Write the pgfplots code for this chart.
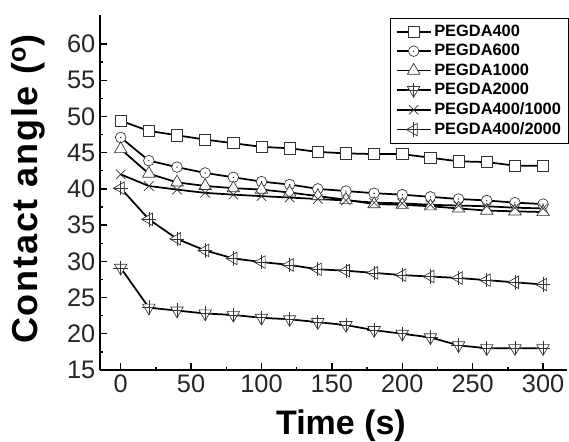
\documentclass[border=0pt]{standalone}
\usepackage{fontspec}
\setmainfont{Liberation Sans}
\usepackage{pgfplots}
\pgfplotsset{compat=1.18}

% open marks with white fill
\pgfdeclareplotmark{cdot}{%
  \pgfpathcircle{\pgfpointorigin}{\pgfplotmarksize}%
  \pgfusepathqfillstroke
  \begin{pgfscope}\pgfsetfillcolor{black}%
  \pgfpathcircle{\pgfpointorigin}{0.5pt}\pgfusepathqfill\end{pgfscope}}
\pgfdeclareplotmark{tdplus}{%
  \pgfpathmoveto{\pgfqpointpolar{-90}{\pgfplotmarksize}}%
  \pgfpathlineto{\pgfqpointpolar{30}{\pgfplotmarksize}}%
  \pgfpathlineto{\pgfqpointpolar{150}{\pgfplotmarksize}}%
  \pgfpathclose\pgfusepathqfillstroke
  \pgfpathmoveto{\pgfqpoint{-\pgfplotmarksize}{0pt}}%
  \pgfpathlineto{\pgfqpoint{\pgfplotmarksize}{0pt}}%
  \pgfpathmoveto{\pgfqpoint{0pt}{-\pgfplotmarksize}}%
  \pgfpathlineto{\pgfqpoint{0pt}{\pgfplotmarksize}}%
  \pgfusepathqstroke}
\pgfdeclareplotmark{tlplus}{%
  \pgfpathmoveto{\pgfqpointpolar{180}{\pgfplotmarksize}}%
  \pgfpathlineto{\pgfqpointpolar{60}{\pgfplotmarksize}}%
  \pgfpathlineto{\pgfqpointpolar{-60}{\pgfplotmarksize}}%
  \pgfpathclose\pgfusepathqfillstroke
  \pgfpathmoveto{\pgfqpoint{-\pgfplotmarksize}{0pt}}%
  \pgfpathlineto{\pgfqpoint{\pgfplotmarksize}{0pt}}%
  \pgfpathmoveto{\pgfqpoint{0pt}{-\pgfplotmarksize}}%
  \pgfpathlineto{\pgfqpoint{0pt}{\pgfplotmarksize}}%
  \pgfusepathqstroke}

\pgfplotsset{
  ser/.style={black, line width=1.3pt,
    mark options={solid, fill=white, draw=black!80, line width=0.5pt}},
}

\begin{document}
\begin{tikzpicture}
\begin{axis}[
  scale only axis, width=350.25pt, height=266.25pt,
  xmin=-14.7, xmax=317, ymin=15, ymax=64,
  axis x line*=bottom, axis y line*=left,
  axis line style={line width=1.5pt},
  xtick={0,50,...,300}, ytick={15,20,...,60},
  minor tick num=1, tick align=inside,
  major tick length=5pt, minor tick length=2.5pt,
  tick style={black, line width=1pt},
  /pgf/number format/assume math mode=true,
  tick label style={font=\fontsize{19}{22}\selectfont, text=black!85},
  xlabel={Time (s)}, ylabel={Contact angle (\textsuperscript{o})},
  xlabel style={font=\bfseries\fontsize{25.5}{30}\selectfont,
    at={([yshift=-48.75pt]rel axis cs:0.516,0)}, anchor=base},
  ylabel style={font=\bfseries\fontsize{27}{32}\selectfont\addfontfeature{LetterSpace=5},
    at={([xshift=-37.5pt]rel axis cs:0,0.51)}, anchor=south},
  legend style={at={([xshift=2pt,yshift=-2pt]rel axis cs:1,1)}, anchor=north east,
    draw=black, line width=1pt, fill=white,
    font=\bfseries\fontsize{12.3}{14}\selectfont,
    row sep=0.5pt, inner xsep=4pt, inner ysep=3pt},
  legend cell align=left,
  legend image code/.code={\draw[mark repeat=2,mark phase=2]
    plot coordinates {(0cm,0cm) (0.45cm,0cm) (0.9cm,0cm)};},
]
\addplot[ser, mark=square*, mark size=4.2pt] coordinates {
(0,49.4) (20,48.0) (40,47.4) (60,46.8) (80,46.3) (100,45.8) (120,45.6) (140,45.1)
(160,44.9) (180,44.8) (200,44.8) (220,44.3) (240,43.8) (260,43.7) (280,43.2) (300,43.2)};
\addlegendentry{PEGDA400}
\addplot[ser, mark=cdot, mark size=4pt] coordinates {
(0,47.1) (20,43.9) (40,43.0) (60,42.2) (80,41.6) (100,41.0) (120,40.6) (140,40.0)
(160,39.7) (180,39.4) (200,39.2) (220,38.9) (240,38.6) (260,38.4) (280,38.1) (300,37.9)};
\addlegendentry{PEGDA600}
\addplot[ser, mark=triangle*, mark size=5.4pt] coordinates {
(0,45.5) (20,42.1) (40,40.9) (60,40.4) (80,40.1) (100,39.9) (120,39.5) (140,39.0)
(160,38.5) (180,37.9) (200,37.8) (220,37.6) (240,37.3) (260,37.0) (280,36.9) (300,36.8)};
\addlegendentry{PEGDA1000}
\addplot[ser, mark=tdplus, mark size=5.4pt] coordinates {
(0,29.1) (20,23.6) (40,23.2) (60,22.8) (80,22.6) (100,22.2) (120,22.0) (140,21.6)
(160,21.2) (180,20.5) (200,20.0) (220,19.5) (240,18.4) (260,18.0) (280,18.0) (300,18.0)};
\addlegendentry{PEGDA2000}
\addplot[ser, mark=x, mark size=5pt] coordinates {
(0,42.0) (20,40.4) (40,39.9) (60,39.45) (80,39.2) (100,39.0) (120,38.8) (140,38.6)
(160,38.4) (180,38.1) (200,38.0) (220,37.8) (240,37.7) (260,37.6) (280,37.4) (300,37.3)};
\addlegendentry{PEGDA400/1000}
\addplot[ser, mark=tlplus, mark size=5.4pt] coordinates {
(0,40.1) (20,35.8) (40,33.1) (60,31.5) (80,30.4) (100,29.9) (120,29.5) (140,28.9)
(160,28.7) (180,28.4) (200,28.1) (220,27.9) (240,27.7) (260,27.4) (280,27.1) (300,26.8)};
\addlegendentry{PEGDA400/2000}
\end{axis}
\pgfresetboundingbox
\path[use as bounding box] ([shift={(-75pt,-54pt)}]current axis.south west)
  rectangle ([shift={(1.5pt,11.25pt)}]current axis.north east);
\end{tikzpicture}
\end{document}
